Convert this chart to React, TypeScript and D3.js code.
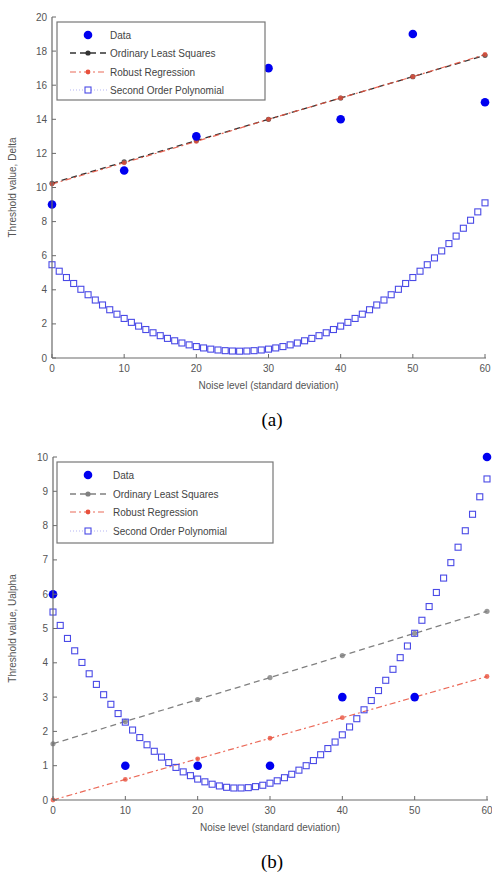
import React from "react";
import * as d3 from "d3";

// ---- data ----
const xTicks = [0, 10, 20, 30, 40, 50, 60];
const dataX = [0, 10, 20, 30, 40, 50, 60];

// panel (a)
const dataA = [9, 11, 13, 17, 14, 19, 15];
const olsA = [10.25, 11.5, 12.75, 14.0, 15.25, 16.5, 17.75];
const robustA = [10.2, 11.45, 12.7, 14.0, 15.25, 16.5, 17.8];
const polyA = [
  5.47, 5.09, 4.72, 4.37, 4.03, 3.71, 3.4, 3.11, 2.83, 2.57, 2.32, 2.09, 1.87, 1.67, 1.48, 1.31,
  1.15, 1.01, 0.88, 0.77, 0.67, 0.59, 0.52, 0.47, 0.43, 0.41, 0.4, 0.41, 0.43, 0.47, 0.52, 0.59,
  0.67, 0.77, 0.88, 1.01, 1.15, 1.31, 1.48, 1.67, 1.87, 2.09, 2.32, 2.57, 2.83, 3.11, 3.4, 3.71,
  4.03, 4.37, 4.72, 5.09, 5.47, 5.87, 6.28, 6.71, 7.15, 7.61, 8.08, 8.57, 9.1,
];

// panel (b)
const dataB = [6, 1, 1, 1, 3, 3, 10];
const olsB = [1.64, 2.29, 2.93, 3.57, 4.21, 4.86, 5.5];
const robustB = [0, 0.6, 1.2, 1.8, 2.4, 3.0, 3.6];
const polyB = [
  5.48, 5.09, 4.71, 4.35, 4.01, 3.68, 3.37, 3.07, 2.79, 2.52, 2.27, 2.04, 1.82, 1.61, 1.42, 1.25,
  1.09, 0.95, 0.82, 0.71, 0.61, 0.53, 0.46, 0.41, 0.37, 0.35, 0.35, 0.36, 0.39, 0.43, 0.49, 0.56,
  0.65, 0.75, 0.87, 1.0, 1.15, 1.32, 1.5, 1.69, 1.9, 2.13, 2.37, 2.63, 2.9, 3.19, 3.49, 3.81,
  4.15, 4.49, 4.86, 5.24, 5.64, 6.05, 6.47, 6.92, 7.37, 7.85, 8.33, 8.84, 9.36,
];

const legendLabels = ["Data", "Ordinary Least Squares", "Robust Regression", "Second Order Polynomial"];

const FONT = "'Liberation Sans', Arial, sans-serif";
const AXIS = "#6a6a6a";
const TXT = "#555";
const BLUE = "#0000f0";
const SQ = "#4a4ae6";
const RED = "#e8503c";

function Panel({ data, ols, robust, poly, yMax, yStep, x0, x1, yTop, yBot, yLabel, olsColor, legend, caption, captionY }) {
  const x = d3.scaleLinear().domain([0, 60]).range([x0, x1]);
  const y = d3.scaleLinear().domain([0, yMax]).range([yBot, yTop]);
  const yTicks = d3.range(0, yMax + yStep / 2, yStep);
  const line = d3.line<number>().x((_, i) => x(dataX[i])).y((d) => y(d));
  const polyX = d3.range(poly.length);

  const lx = legend.x;
  const rows = legend.rows;

  return (
    <g>
      {/* fitted lines */}
      <path d={line(ols) || ""} fill="none" stroke={olsColor} strokeWidth={1.3} strokeDasharray="6,4" />
      <path d={line(robust) || ""} fill="none" stroke={RED} strokeWidth={1.2} strokeDasharray="6,3,2,3" opacity={0.85} />
      {ols.map((v, i) => (
        <circle key={"o" + i} cx={x(dataX[i])} cy={y(v)} r={2.6} fill={olsColor} opacity={0.8} />
      ))}
      {robust.map((v, i) => (
        <circle key={"r" + i} cx={x(dataX[i])} cy={y(v)} r={2.4} fill={RED} opacity={0.8} />
      ))}
      {/* polynomial squares */}
      {poly.map((v, i) => (
        <rect key={"p" + i} x={x(polyX[i]) - 3} y={y(v) - 3} width={6} height={6} fill="none" stroke={SQ} strokeWidth={1.1} />
      ))}
      {/* data */}
      {data.map((v, i) => (
        <circle key={"d" + i} cx={x(dataX[i])} cy={y(v)} r={4.3} fill={BLUE} />
      ))}

      {/* axes */}
      <line x1={x0} x2={x0} y1={yTop} y2={yBot} stroke={AXIS} strokeWidth={1.2} />
      <line x1={x0} x2={x1 + 1} y1={yBot} y2={yBot} stroke={AXIS} strokeWidth={1.2} />
      {yTicks.map((t) => (
        <g key={"yt" + t}>
          <line x1={x0} x2={x0 + 4} y1={y(t)} y2={y(t)} stroke={AXIS} />
          <text x={x0 - 5} y={y(t) + 3.5} fontSize={10} fill={TXT} textAnchor="end" fontFamily={FONT}>{t}</text>
        </g>
      ))}
      {xTicks.map((t) => (
        <g key={"xt" + t}>
          <line x1={x(t)} x2={x(t)} y1={yBot} y2={yBot - 4} stroke={AXIS} />
          <text x={x(t)} y={yBot + 14} fontSize={10} fill={TXT} textAnchor="middle" fontFamily={FONT}>{t}</text>
        </g>
      ))}
      <text x={(x0 + x1) / 2} y={yBot + 31} fontSize={10} fill={TXT} textAnchor="middle" fontFamily={FONT}>
        Noise level (standard deviation)
      </text>
      <text transform={`translate(16,${(yTop + yBot) / 2}) rotate(-90)`} fontSize={10} fill={TXT} textAnchor="middle" fontFamily={FONT}>
        {yLabel}
      </text>

      {/* legend */}
      <rect x={lx} y={legend.y} width={legend.w} height={legend.h} fill="white" stroke="#777" strokeWidth={1.2} />
      <circle cx={lx + 31} cy={rows[0]} r={4.3} fill={BLUE} />
      <line x1={lx + 13} x2={lx + 50} y1={rows[1]} y2={rows[1]} stroke={olsColor} strokeWidth={1.3} strokeDasharray="6,4" />
      <circle cx={lx + 31} cy={rows[1]} r={2.6} fill={olsColor} />
      <line x1={lx + 13} x2={lx + 50} y1={rows[2]} y2={rows[2]} stroke={RED} strokeWidth={1.2} strokeDasharray="6,3,2,3" opacity={0.85} />
      <circle cx={lx + 31} cy={rows[2]} r={2.4} fill={RED} />
      <line x1={lx + 13} x2={lx + 50} y1={rows[3]} y2={rows[3]} stroke={SQ} strokeWidth={0.8} strokeDasharray="1,2" opacity={0.5} />
      <rect x={lx + 28} y={rows[3] - 3} width={6} height={6} fill="white" stroke={SQ} strokeWidth={1.1} />
      {legendLabels.map((l, i) => (
        <text key={l} x={lx + legend.tx} y={rows[i] + 3.5} fontSize={10} fill="#444" fontFamily={FONT}>{l}</text>
      ))}

      <text x={272} y={captionY} fontSize={19} fill="#000" textAnchor="middle" fontFamily="'Liberation Serif', 'Times New Roman', serif">
        {caption}
      </text>
    </g>
  );
}

export default function App() {
  return (
    <svg width={492} height={878} style={{ position: "absolute", left: 0, top: 0, background: "white" }}>
      <rect width={492} height={878} fill="white" />
      <Panel
        data={dataA}
        ols={olsA}
        robust={robustA}
        poly={polyA}
        yMax={20}
        yStep={2}
        x0={52}
        x1={485}
        yTop={17}
        yBot={358}
        yLabel="Threshold value, Delta"
        olsColor="#333"
        legend={{ x: 57, y: 22, w: 208, h: 78, tx: 53, rows: [35, 53, 72, 90] }}
        caption="(a)"
        captionY={426}
      />
      <Panel
        data={dataB}
        ols={olsB}
        robust={robustB}
        poly={polyB}
        yMax={10}
        yStep={1}
        x0={53}
        x1={487}
        yTop={457}
        yBot={800}
        yLabel="Threshold value, Ualpha"
        olsColor="#808080"
        legend={{ x: 57, y: 462, w: 216, h: 81, tx: 56, rows: [475, 494, 512, 531] }}
        caption="(b)"
        captionY={868}
      />
    </svg>
  );
}
